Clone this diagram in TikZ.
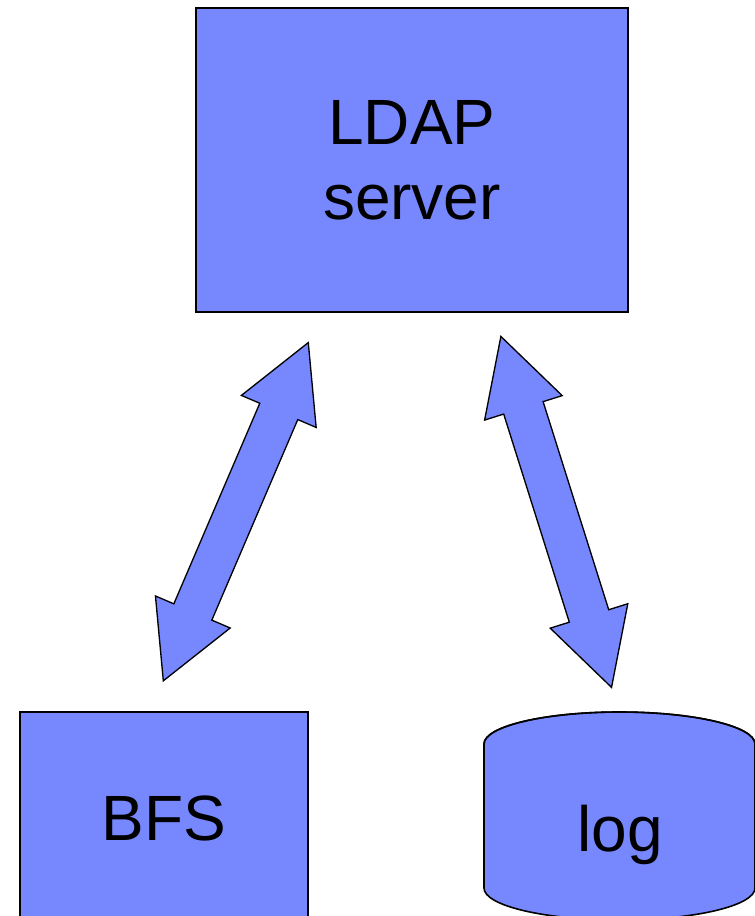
\documentclass[tikz,border=0pt]{standalone}
\usepackage{fontspec}
\setmainfont{Liberation Sans}
\usetikzlibrary{shapes.arrows}
\definecolor{boxblue}{RGB}{119,136,255}
\tikzset{
  box/.style={draw=black, line width=1.2pt, fill=boxblue, font=\fontsize{48}{56}\selectfont, align=center, inner sep=0pt},
  link/.style={double arrow, draw=black, line width=1pt, fill=boxblue, inner xsep=0pt, inner ysep=15pt,
    minimum height=276pt, double arrow head extend=15pt,
    double arrow tip angle=57, double arrow head indent=0pt},
}
\begin{document}
\begin{tikzpicture}[x=0.75pt,y=0.75pt,yscale=-1,xscale=1]
        \useasboundingbox (0,0) rectangle (755,916);
        \clip (0,0) rectangle (755,916);

        % LDAP server box
        \node [box, minimum width=324pt, minimum height=228pt] (ldap) at (412,160) {LDAP\\server};

        %Shape: BFS box, runs off the bottom edge
        \draw [line width=1.2pt, fill=boxblue] (20,712) rectangle (308,960);
        \node [font=\fontsize{48}{56}\selectfont] (bfs) at (164,818) {BFS};

        %Shape: Cylinder for log
        \draw [line width=1.2pt, fill=boxblue] (484,744) -- (484,888) arc[start angle=180, end angle=360, x radius=135.5, y radius=-32] -- (755,744) arc[start angle=0, end angle=180, x radius=135.5, y radius=-32] -- cycle;
        \draw [line width=1.2pt] (484,744) arc[start angle=180, end angle=360, x radius=135.5, y radius=32];
        \node [font=\fontsize{48}{56}\selectfont] (log) at (620,835) {log};

        % Double arrows between the server and the stores
        \node [link, rotate=66.8] (bfslink) at (235.8,511.7) {};
        \node [link, rotate=-72.5] (loglink) at (556.2,511.9) {};

\end{tikzpicture}
\end{document}
